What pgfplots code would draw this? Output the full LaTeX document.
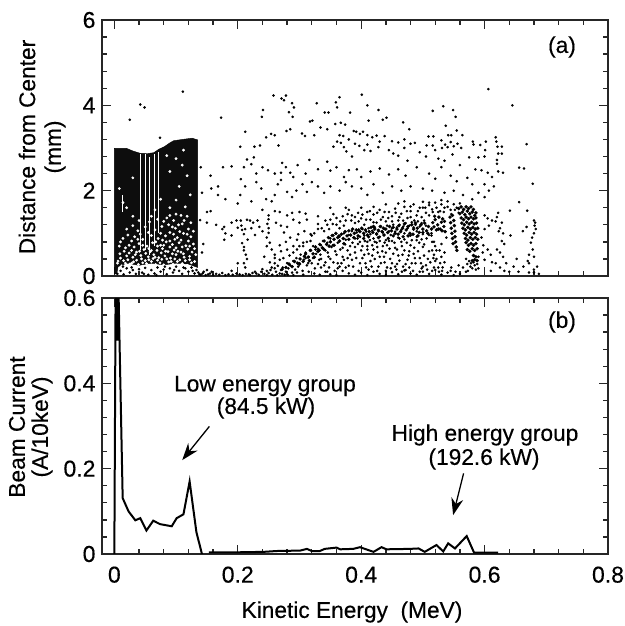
\documentclass[border=0pt]{standalone}
\usepackage{pgfplots}
\pgfplotsset{compat=1.18}
\usepackage{fontspec}
\setmainfont{Liberation Sans}[FakeBold=0.35]
\usetikzlibrary{arrows.meta}
\pgfplotsset{
  panel/.style={
    scale only axis, width=506pt, height=256pt, xmin=-0.02, xmax=0.8,
    axis line style={line width=1.5pt, black!85},
    tick style={line width=1.3pt, black!85},
    tick align=inside, xtick pos=both, ytick pos=both,
    major tick length=9pt, minor tick length=5pt,
    xtick={0,0.2,0.4,0.6,0.8}, minor xtick={0.04,0.08,0.12,0.16,0.24,0.28,0.32,0.36,0.44,0.48,0.52,0.56,0.64,0.68,0.72,0.76},
    tick label style={font=\fontsize{23}{23}\selectfont},
    /pgf/number format/assume math mode=true,
    clip=true, axis on top=false,
  },
  dots/.style={only marks, mark=*, mark size=1.1pt, mark options={fill=black, draw=none}, black},
  dense/.style={only marks, mark=*, mark size=1.55pt, mark options={fill=black, draw=none}, black},
}
\begin{document}
\begin{tikzpicture}[x=1pt,y=1pt]
\path[use as bounding box] (0,0) rectangle (624,626);
\begin{axis}[panel, at={(102pt,350pt)}, anchor=south west, ymin=0, ymax=6,
  ytick={0,2,4,6}, minor ytick={0.4,0.8,1.2,1.6,2.4,2.8,3.2,3.6,4.4,4.8,5.2,5.6},
  xticklabels={}, yticklabel style={/pgf/number format/fixed, xshift=-3pt}]
% solid mass of the low energy group: outline
\addplot[fill=black!95, draw=black] coordinates {(0,0.05)(0,2.99)(.02,2.99)(.03,2.93)(.042,2.875)(.054,2.87)(.064,2.89)(.072,2.97)(.081,3.03)(.09,3.12)(.096,3.17)(.11,3.2)(.126,3.23)(.135,3.19)(.135,0.2)(.12,0.28)(.1,0.3)(.08,0.26)(.06,0.3)(.04,0.25)(.02,0.3)(.006,0.22)(.004,0.05)} --cycle;
% pale vertical streaks
\addplot[white, line width=0.9pt, unbounded coords=jump] coordinates {(.042,.6)(.042,2.85) (nan,nan) (.05,.6)(.05,2.85) (nan,nan) (.057,.5)(.057,2.8) (nan,nan) (.065,.7)(.065,2.85) (nan,nan) (.072,1.0)(.072,2.9) (nan,nan) (.0135,1.5)(.0135,1.9)};
% pale specks inside the mass
\addplot[only marks, mark=*, mark size=1.2pt, mark options={fill=white, draw=none}, white] coordinates {
(.012,.24)(.018,.3)(.025,.28)(.031,.33)(.006,.35)(.039,.27)(.046,.31)(.052,.29)(.06,.34)(.067,.27)(.074,.31)(.08,.26)(.088,.33)(.095,.28)(.102,.34)(.11,.29)(.118,.25)(.125,.31)(.01,.42)(.02,.47)(.03,.44)(.043,.48)(.055,.45)(.064,.5)(.072,.43)(.082,.47)(.091,.42)(.1,.5)(.113,.44)(.122,.46)(.016,.58)(.028,.6)(.036,.56)(.048,.62)(.058,.57)(.069,.6)(.078,.64)(.087,.57)(.097,.61)(.108,.56)(.119,.63)(.008,.7)(.024,.72)(.04,.76)(.053,.7)(.062,.78)(.075,.72)(.084,.8)(.094,.74)(.105,.78)(.116,.71)(.128,.75)(.014,.88)(.033,.92)(.046,.86)(.06,.95)(.071,.88)(.083,.94)(.09,1.02)(.102,.9)(.112,1.0)(.124,.92)(.02,1.1)(.038,1.06)(.05,1.15)(.066,1.08)(.077,1.16)(.088,1.2)(.099,1.12)(.11,1.22)(.12,1.1)(.057,1.27)(.07,1.33)(.085,1.36)(.096,1.3)(.108,1.42)(.03,1.4)(.014,1.72)(.066,1.55)(.09,1.6)(.115,1.62)(.075,1.8)(.1,1.78)(.123,1.9)(.105,2.1)(.03,2.3)(.09,2.45)(.11,2.6)(.008,2.05)(.118,2.35)(.1,2.75)(.112,2.95)(.085,2.82)
(.005,.3)(.015,.36)(.022,.38)(.028,.3)(.036,.37)(.044,.4)(.05,.36)(.056,.38)(.063,.41)(.07,.37)(.077,.39)(.085,.4)(.092,.34)(.098,.4)(.106,.38)(.115,.36)(.122,.38)(.13,.34)(.009,.52)(.024,.54)(.034,.5)(.041,.58)(.051,.53)(.06,.6)(.066,.44)(.076,.54)(.083,.58)(.094,.52)(.103,.58)(.112,.52)(.126,.56)(.132,.5)(.018,.66)(.032,.68)(.046,.72)(.056,.64)(.07,.7)(.08,.72)(.09,.68)(.1,.66)(.11,.68)(.122,.7)(.13,.64)(.01,.8)(.028,.82)(.038,.86)(.067,.8)(.078,.84)(.09,.82)(.098,.86)(.108,.84)(.12,.82)(.022,.96)(.042,.98)(.055,1.02)(.075,1.0)(.096,.98)(.106,1.04)(.118,.98)(.128,1.05)(.03,1.18)(.08,1.28)(.094,1.15)(.104,1.2)(.113,1.3)(.124,1.25)(.06,1.4)(.09,1.42)(.1,1.45)(.118,1.4)(.04,1.3)(.02,1.6)};
% points
\addplot[dots] coordinates {
(.025,3.66)(.042,4.02)(.049,3.95)(.111,4.32)(.074,3.24)(.173,3.71)(.241,3.89)(.239,3.73)(.212,3.38)(.204,3.03)(.227,3.03)(.236,3.06)(.246,3.25)(.254,3.33)(.26,3.3)(.266,3.06)(.258,4.23)(.271,4.16)(.278,4.23)(.275,4.12)(.288,4.05)(.291,3.95)(.283,3.84)(.289,3.73)(.279,3.4)(.285,3.44)(.304,3.34)(.309,3.28)(.324,3.3)(.317,3.62)(.321,3.64)(.328,4.05)(.341,3.83)(.347,3.83)(.334,3.48)(.345,3.44)(.359,4.07)(.361,3.95)(.365,4.19)(.382,3.83)(.358,3.56)(.367,3.59)(.374,3.55)(.388,3.4)(.392,3.38)(.398,3.33)(.403,3.38)(.401,4.25)(.41,4.0)(.428,3.89)(.412,3.64)(.435,3.66)(.441,3.71)(.468,3.6)(.478,3.44)(.516,3.87)(.533,3.98)(.549,3.89)(.553,3.73)(.537,3.52)(.541,3.3)(.546,3.3)(.555,3.41)(.564,3.3)(.509,3.27)(.517,3.27)(.506,3.06)(.516,3.06)(.53,3.18)(.531,3.0)(.536,3.08)(.54,3.02)(.545,3.14)(.55,3.04)(.556,3.1)(.562,3.0)(.581,3.15)(.582,3.08)(.593,3.07)(.602,3.15)(.601,2.95)(.6,2.8)(.618,3.25)(.619,3.15)(.621,3.03)(.628,3.03)(.622,2.87)(.628,2.87)(.62,2.72)(.62,2.63)(.606,4.38)(.645,4.0)(.668,3.09)(.656,2.54)(.664,2.52)(.678,2.16)(.656,1.73)(.641,1.53)(.669,1.53)
(.365,3.3)(.371,3.28)(.38,3.2)(.361,3.15)(.367,3.12)(.372,3.02)(.355,3.03)(.39,3.1)(.397,3.05)(.376,2.92)(.385,2.8)(.41,3.3)(.418,3.25)(.425,3.29)(.43,3.15)(.438,3.28)(.45,3.16)(.46,3.13)(.47,3.2)(.48,3.1)(.487,3.12)(.41,3.08)(.405,2.95)(.415,2.93)(.428,3.02)(.445,2.95)(.452,2.87)(.47,3.0)(.46,2.82)(.475,2.7)(.495,2.9)(.505,2.8)(.52,2.95)(.525,2.75)(.535,2.7)(.548,2.85)(.56,2.6)(.575,2.78)(.59,2.78)(.585,2.5)(.595,2.48)(.605,2.42)(.612,2.32)(.622,2.45)(.63,2.42)
(.204,1.9)(.205,2.27)(.21,2.55)(.215,2.73)(.222,2.62)(.226,2.78)(.23,2.4)(.24,2.55)(.249,2.48)(.26,2.4)(.27,2.42)(.272,2.65)(.278,2.55)(.285,2.42)(.29,2.32)(.297,2.6)(.31,2.4)(.316,2.72)(.33,2.5)(.345,2.68)(.35,2.47)(.36,2.55)(.372,2.32)(.38,2.48)(.393,2.5)(.4,2.32)(.415,2.45)(.43,2.52)(.445,2.38)(.46,2.5)(.472,2.35)(.49,2.55)(.51,2.4)(.52,2.28)(.53,2.55)(.545,2.35)(.555,2.22)(.572,2.3)(.58,2.15)(.6,2.15)(.607,2.0)(.615,2.1)(.6,1.85)
(.14,2.55)(.142,1.95)(.156,2.35)(.157,2.05)(.168,2.1)(.168,1.9)(.176,2.55)(.18,1.8)(.19,2.57)(.2,1.7)(.212,2.1)(.222,1.75)(.23,2.2)(.238,2.05)(.246,1.8)(.255,1.75)(.26,1.9)(.265,2.15)(.27,2.25)(.28,1.97)(.288,1.85)(.295,2.0)(.305,2.15)(.312,1.97)(.32,2.2)(.33,2.1)(.34,1.95)(.35,2.1)(.365,2.0)(.375,2.2)(.385,2.1)(.4,2.05)(.41,1.9)(.42,2.15)(.435,1.95)(.45,2.1)(.465,2.0)(.48,2.1)(.5,2.05)(.515,2.0)(.535,1.95)(.55,2.0)(.565,1.9)(.58,1.8)(.59,1.95)
(.15,1.5)(.156,1.52)(.139,1.31)(.15,1.25)(.165,1.2)(.178,1.15)(.175,1.1)(.18,1.0)(.19,1.25)(.198,1.3)(.2,1.13)(.205,1.3)(.206,1.18)(.207,1.08)(.21,.98)(.178,.85)(.19,.95)(.144,.75)(.142,.55)(.19,.12)(.2,.3)(.215,1.32)(.22,1.3)(.212,1.1)(.216,.85)(.207,.77)(.21,.68)(.21,.6)(.213,.5)(.215,.4)(.21,.3)(.212,.2)(.225,1.25)(.232,1.3)(.235,1.15)(.24,1.05)(.228,.96)(.222,1.12)(.248,1.22)(.25,1.42)(.25,1.12)(.25,1.01)(.247,.9)(.252,.78)(.24,1.55)(.26,1.52)(.268,1.5)(.28,1.42)(.288,1.48)(.3,1.5)(.31,1.46)(.25,1.33)(.262,1.25)(.27,1.18)(.28,1.15)(.29,1.32)(.3,1.25)(.312,1.32)(.275,1.02)(.285,.9)(.298,.98)(.308,1.05)(.268,.72)(.278,.8)(.255,.62)(.26,.5)(.27,.58)(.28,.62)(.29,.7)(.296,.85)(.243,.45)(.247,.7)
(.165,.05)(.17,.03)(.175,.07)(.155,.06)(.145,.1)(.16,.02)(.18,.02)(.185,.04)(.192,.03)(.198,.06)(.203,.04)(.208,.02)(.213,.05)(.218,.04)(.224,.07)(.23,.06)(.22,.02)(.228,.1)(.234,.03)(.238,.1)(.24,.16)(.243,.05)(.247,.12)(.25,.07)(.253,.14)(.256,.03)(.26,.18)(.262,.1)(.265,.24)(.268,.06)(.27,.14)(.273,.2)(.276,.03)(.278,.1)(.28,.3)(.282,.18)(.285,.25)(.288,.08)(.29,.35)(.293,.15)(.295,.42)(.298,.22)(.3,.3)(.302,.5)(.305,.12)(.307,.38)(.31,.55)(.312,.25)(.315,.45)(.317,.6)(.32,.3)(.322,.7)(.325,.18)(.327,.52)(.33,.64)(.332,.38)(.335,.72)(.338,.82)(.34,.25)(.342,.6)(.345,.78)(.347,.45)(.35,.88)(.352,.68)(.355,.95)(.357,.12)(.36,.5)(.362,.78)(.365,.92)(.368,.3)(.37,.66)(.372,1.0)(.375,.85)(.378,.42)(.38,.96)(.382,.7)(.385,1.05)(.387,.22)(.39,.88)
(.15,.14)(.136,.08)(.14,.03)(.143,.06)(.148,.02)(.152,.04)(.158,.1)(.247,.02)(.255,.2)(.264,.02)(.272,.05)(.281,.03)(.29,.02)(.296,.08)(.306,.03)(.315,.1)(.324,.06)(.333,.03)(.342,.1)(.35,.04)(.36,.02)(.37,.12)(.38,.06)(.39,.03)(.4,.08)(.41,.02)(.42,.1)(.43,.05)(.44,.02)(.45,.09)(.46,.04)(.47,.13)(.48,.06)(.49,.03)(.5,.1)(.51,.05)(.52,.14)(.53,.03)(.54,.08)(.55,.02)(.56,.05)(.57,.1)
(.34,1.05)(.33,1.1)(.32,.95)(.345,1.2)(.35,1.32)(.36,1.2)(.37,1.4)(.355,1.45)(.33,1.4)(.365,1.12)(.375,1.3)(.385,1.42)(.39,1.24)(.395,1.48)(.4,1.35)(.405,1.2)(.41,1.5)(.415,1.32)(.42,1.44)(.425,1.25)(.43,1.55)(.435,1.38)(.44,1.28)(.445,1.5)(.45,1.4)(.455,1.58)(.46,1.3)(.465,1.46)(.47,1.62)(.475,1.36)(.48,1.52)(.485,1.68)(.49,1.42)(.495,1.6)(.5,1.74)(.505,1.48)(.51,1.66)(.515,1.56)(.52,1.72)(.525,1.5)(.53,1.68)(.535,1.6)(.54,1.75)(.545,1.55)(.55,1.68)(.555,1.6)(.56,1.7)(.42,1.62)(.44,1.68)(.46,1.7)(.47,1.75)(.48,1.63)(.5,1.6)(.51,1.72)(.53,1.78)(.38,1.55)(.4,1.6)(.375,1.6)(.35,1.6)
(.393,1.02)(.398,.92)(.402,1.1)(.405,.95)(.408,1.04)(.41,.8)(.412,1.12)(.415,.98)(.418,1.06)(.42,.88)(.422,1.14)(.425,1.0)(.428,1.08)(.43,.92)(.432,1.16)(.435,1.02)(.438,1.1)(.44,.84)(.442,1.18)(.445,1.05)(.448,.96)(.45,1.12)(.452,1.2)(.455,1.04)(.458,1.14)(.46,.9)(.462,1.2)(.465,1.08)(.468,1.16)(.47,1.0)(.472,1.24)(.475,1.12)(.478,1.18)(.48,.95)(.482,1.26)(.485,1.14)(.488,1.2)(.49,1.05)(.492,1.28)(.495,1.16)(.498,1.24)(.5,.98)(.502,1.3)(.505,1.18)
(.395,.75)(.4,.6)(.405,.5)(.41,.7)(.415,.35)(.42,.62)(.425,.78)(.43,.45)(.435,.7)(.44,.55)(.445,.82)(.45,.3)(.455,.66)(.46,.48)(.465,.8)(.47,.6)(.475,.38)(.48,.72)(.485,.52)(.49,.84)(.495,.42)(.5,.68)(.505,.25)(.51,.58)(.515,.8)(.52,.35)(.398,.3)(.408,.2)(.418,.48)(.428,.22)(.438,.32)(.448,.18)(.458,.28)(.468,.22)(.478,.2)(.488,.3)(.498,.18)(.508,.4)(.518,.2)(.39,.55)(.385,.38)(.375,.2)(.362,.3)(.348,.2)(.335,.2)
(.306,.7)(.31,.42)(.314,.3)(.318,.82)(.322,.42)(.326,.62)(.33,.28)(.334,.5)(.338,.65)(.342,.32)(.346,.55)(.35,.4)(.354,.72)(.358,.58)(.362,.18)(.366,.62)(.37,.45)(.374,.74)(.378,.6)(.382,.5)(.386,.78)(.39,.68)(.394,.88)(.398,.8)(.402,.7)(.406,.82)(.41,.62)(.414,.84)(.418,.72)(.422,.8)(.426,.68)(.43,.82)(.434,.58)(.438,.78)(.442,.72)(.446,.64)(.45,.82)(.454,.78)(.458,.62)(.462,.88)(.466,.7)(.47,.86)(.474,.78)(.478,.58)(.482,.84)(.486,.66)(.49,.92)(.494,.78)(.498,.86)(.502,.74)(.506,.88)(.51,.96)(.514,1.0)
(.26,.3)(.268,.38)(.252,.32)(.274,.42)(.26,.42)(.29,.55)(.284,.48)(.296,.62)(.3,.7)(.306,.78)(.312,.8)(.318,.98)(.324,1.0)(.33,1.22)(.336,1.12)(.342,1.3)(.348,1.1)(.354,1.22)(.36,1.36)(.366,1.28)(.372,1.18)(.378,1.45)(.384,1.3)(.39,1.38)(.396,1.28)(.402,1.44)(.408,1.32)(.414,1.52)(.42,1.26)(.426,1.48)(.432,1.32)(.438,1.5)(.444,1.36)(.45,1.28)(.456,1.48)(.462,1.38)(.468,1.3)(.474,1.52)(.48,1.38)(.486,1.3)(.492,1.52)(.498,1.38)(.504,1.6)(.51,1.42)(.516,1.5)(.522,1.6)(.528,1.52)(.534,1.5)(.54,1.62)(.546,1.45)(.552,1.55)(.558,1.48)
(.402,.42)(.407,.3)(.412,.52)(.417,.22)(.422,.4)(.427,.55)(.432,.3)(.437,.45)(.442,.2)(.447,.4)(.452,.52)(.457,.15)(.462,.36)(.467,.5)(.472,.28)(.477,.48)(.482,.3)(.487,.42)(.492,.58)(.497,.3)(.502,.48)(.507,.15)(.512,.32)(.517,.42)(.522,.6)(.335,.4)(.345,.1)(.355,.32)(.365,.22)(.372,.38)(.38,.24)(.392,.42)(.396,.12)(.412,.15)(.426,.12)(.44,.12)(.455,.22)(.466,.1)(.472,.14)(.484,.12)(.495,.1)(.5,.22)(.515,.12)(.526,.1)
(.005,.05)(.01,.12)(.015,.04)(.02,.18)(.025,.08)(.03,.14)(.035,.05)(.04,.16)(.045,.08)(.05,.19)(.055,.03)(.06,.14)(.065,.06)(.07,.2)(.075,.1)(.08,.15)(.085,.04)(.09,.18)(.095,.08)(.1,.22)(.105,.12)(.11,.05)(.115,.18)(.12,.1)(.125,.2)(.13,.06)(.133,.14)(.138,.04)(.014,.22)(.028,.2)(.048,.05)(.068,.02)(.082,.22)(.097,.14)(.112,.2)(.127,.12)
(.514,.95)(.518,.8)(.515,.6)(.52,.7)(.518,.5)(.522,.4)(.527,.6)(.53,.75)(.53,.45)(.525,.2)(.528,.3)(.532,.2)(.535,.55)(.535,.32)(.531,.12)(.538,.9)(.546,.2)(.545,.12)(.553,.1)(.558,.25)
(.57,.4)(.572,.28)(.575,.35)(.577,.22)(.578,.3)(.58,.18)(.582,.32)(.584,.25)(.586,.15)(.588,.28)(.59,.18)(.565,.2)(.573,.12)
(.6,1.42)(.605,1.35)(.612,1.3)(.607,1.18)(.6,1.1)(.595,.9)(.598,.72)(.605,.62)(.61,.5)(.597,.55)(.59,.45)(.6,.38)(.612,.32)(.622,1.48)(.62,1.38)(.618,1.28)(.628,1.25)(.625,1.12)(.623,1.05)(.63,1.0)(.628,.82)(.632,.75)(.62,.62)(.625,.55)(.63,.45)(.618,.3)(.625,.2)(.635,.3)(.61,.12)(.632,.12)(.642,.95)(.647,.22)(.64,.1)(.655,.1)(.663,.22)(.652,.4)(.67,.35)(.672,.5)(.662,1.05)(.668,1.15)(.68,1.3)(.682,1.25)(.681,1.18)(.683,1.1)(.68,1.0)(.677,.9)(.675,.78)(.678,.62)(.68,.45)(.672,.3)(.68,.15)(.685,.22)(.688,.05)(.68,.08)(.672,.08)
};
% dark core of the band and dark clusters
\addplot[dense] coordinates {
(.272,.16)(.278,.2)(.283,.28)(.288,.22)(.292,.34)(.297,.3)(.301,.4)(.306,.34)(.31,.52)(.314,.44)(.318,.6)(.322,.52)(.326,.68)(.33,.58)(.333,.74)(.337,.66)(.34,.82)(.344,.74)(.347,.9)(.35,.8)(.353,.95)(.356,.86)(.359,1.0)(.362,.9)(.365,.82)(.368,.98)(.371,.88)(.374,1.04)(.377,.94)(.38,1.06)(.383,.96)(.386,1.1)(.389,1.0)(.392,1.08)(.395,.94)(.398,1.04)(.401,1.12)(.404,1.0)(.407,1.08)(.41,.96)(.413,1.04)(.416,1.14)(.419,1.02)(.422,1.1)(.425,.98)(.428,1.06)(.431,1.16)(.434,1.04)(.437,.96)(.44,1.1)(.443,1.02)(.446,1.16)(.449,1.06)(.452,1.14)(.455,1.0)(.458,1.1)(.461,1.18)(.464,1.04)(.467,1.12)(.47,1.22)(.473,1.08)(.476,1.16)(.479,1.0)(.482,1.2)(.485,1.1)(.488,1.24)(.491,1.12)(.494,1.02)(.497,1.2)(.5,1.1)(.503,1.24)(.506,1.06)(.509,1.16)
(.3,.28)(.308,.46)(.316,.36)(.324,.44)(.332,.6)(.34,.62)(.348,.7)(.356,.72)(.364,.94)(.372,.76)(.38,.86)(.388,.9)(.396,1.08)(.404,.88)(.412,.92)(.42,1.16)(.428,.9)(.436,1.12)(.444,.88)(.452,.94)(.46,.98)(.468,.92)(.476,.94)(.484,.98)(.492,.94)(.5,1.02)(.508,1.0)
(.514,1.1)(.516,1.25)(.518,1.15)(.52,1.32)(.522,1.08)(.524,1.2)(.526,1.38)(.528,1.1)(.53,1.26)(.532,1.34)(.534,1.16)(.536,1.04)(.525,1.1)(.519,1.4)(.531,1.06)(.535,1.28)
(.544,1.38)(.545,1.25)(.546,1.12)(.547,1.0)(.548,.88)(.549,.76)(.55,1.3)(.551,1.18)(.552,1.05)(.552,.92)(.553,.8)(.554,.68)(.548,1.42)(.555,.6)
(.558,1.58)(.562,1.62)(.566,1.56)(.57,1.62)(.574,1.58)(.578,1.62)(.582,1.56)(.586,1.48)
(.56,1.46)(.564,1.5)(.568,1.44)(.572,1.52)(.576,1.46)(.58,1.5)(.584,1.42)(.562,1.36)(.566,1.32)(.57,1.38)(.574,1.34)(.578,1.38)(.582,1.34)(.586,1.36)
(.563,1.24)(.567,1.2)(.571,1.26)(.575,1.22)(.579,1.26)(.583,1.22)(.587,1.24)(.565,1.12)(.569,1.08)(.573,1.14)(.577,1.1)(.581,1.14)(.585,1.1)(.589,1.12)
(.567,1.0)(.571,.96)(.575,1.02)(.579,.98)(.583,1.02)(.587,.98)(.569,.88)(.573,.84)(.577,.9)(.581,.86)(.585,.9)(.589,.86)(.57,.78)(.574,.72)(.578,.76)(.582,.72)(.586,.76)(.572,.62)(.576,.58)(.58,.64)(.584,.6)(.588,.64)(.582,.48)(.586,.45)(.58,.36)(.584,.38)(.588,.36)
};
\end{axis}
\begin{axis}[panel, at={(102pt,72pt)}, anchor=south west, ymin=0, ymax=0.6,
  ytick={0,0.2,0.4,0.6}, minor ytick={0.04,0.08,0.12,0.16,0.24,0.28,0.32,0.36,0.44,0.48,0.52,0.56},
  xticklabels={0,0.2,0.4,0.6,0.8}, yticklabels={0,0.2,0.4,0.6}, xticklabel style={yshift=-9pt}, yticklabel style={xshift=-3pt}]
\addplot[black, line width=2pt, unbounded coords=jump] coordinates {(0,0)(.002,.6)(.0025,.5)(.004,.6)(.005,.5)(.007,.6)(.0135,.131)(.023,.1)(.034,.079)(.042,.084)(.052,.055)(.063,.078)(.074,.07)(.093,.065)(.101,.084)(.112,.093)(.122,.17)(.133,.051)(.142,0) (nan,nan)
(.153,.004)(.2,.004)(.242,.005)(.263,.007)(.301,.008)(.312,.012)(.32,.007)(.333,.007)(.341,.012)(.36,.015)(.366,.011)(.387,.012)(.398,.016)(.42,.005)(.433,.016)(.441,.011)(.479,.012)(.493,.013)(.503,.005)(.522,.021)(.533,.006)(.541,.025)(.552,.013)(.571,.042)(.583,.003)(.622,.003)};
\draw[line width=1.3pt, -{Stealth[length=17pt,width=12pt]}] (axis cs:.154,.299) -- (axis cs:.11,.22);
\draw[line width=1.3pt, -{Stealth[length=17pt,width=12pt]}] (axis cs:.566,.189) -- (axis cs:.549,.091);
\end{axis}
\def\fs{\fontsize{22.7}{22.7}\selectfont}
\node[font=\fs] at (562,579) {(a)};
\node[font=\fs] at (562,304) {(b)};
\node[font=\fs] at (265,240) {Low energy group};
\node[font=\fs] at (266,218) {(84.5 kW)};
\node[font=\fs] at (485,191) {High energy group};
\node[font=\fs] at (484,167) {(192.6 kW)};
\node[font=\fs] at (352,14) {Kinetic Energy\ \ (MeV)};
\node[font=\fs, rotate=90] at (27,479) {Distance from Center};
\node[font=\fs, rotate=90] at (55,479) {(mm)};
\node[font=\fs, rotate=90] at (17,199) {Beam Current};
\node[font=\fs, rotate=90] at (42,199) {(A/10keV)};
\end{tikzpicture}
\end{document}
